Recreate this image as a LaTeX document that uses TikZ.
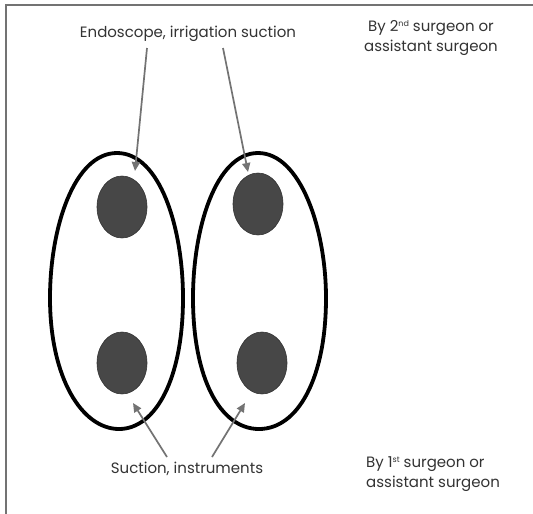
\documentclass[tikz,border=0pt]{standalone}
\usepackage{fontspec}
\setmainfont{Poppins}
\usetikzlibrary{arrows.meta,shapes.geometric}
\newcommand{\supx}[1]{\raisebox{0.55ex}{\fontsize{8}{8}\selectfont #1}}
\begin{document}
\begin{tikzpicture}[x=1pt,y=-1pt,
  frameline/.style={draw=black!55,line width=1.3pt},
  loop/.style={draw=black,line width=3.8pt},
  port/.style={ellipse,fill=black!72,draw=black!80,line width=0.6pt,minimum width=50pt,minimum height=62pt,inner sep=0pt},
  pointer/.style={draw=black!55,line width=1.7pt,-{Triangle[length=9pt,width=8pt]}},
  lbl/.style={font=\fontsize{15}{20}\selectfont,text=black!80,inner sep=0pt}]
\useasboundingbox (0,0) rectangle (533,514);
\fill[white] (0,0) rectangle (533,514);
\coordinate (fa) at (533,5);
\coordinate (fb) at (6,5);
\coordinate (fc) at (6,514);
\draw[frameline] (fa) -- (fb) -- (fc);
% outer loops (egg shapes)
\draw[loop] (117,153) .. controls (160,153) and (183,228) .. (183,298)
  .. controls (183,378) and (156,429) .. (119,429)
  .. controls (82,429) and (50,378) .. (50,298)
  .. controls (50,228) and (74,153) .. cycle;
\draw[loop] (258,153) .. controls (300,153) and (326,228) .. (326,298)
  .. controls (326,378) and (298,429) .. (259,429)
  .. controls (220,429) and (193,378) .. (193,298)
  .. controls (193,228) and (216,153) .. cycle;
% ports
\node[port] (lt) at (122,207) {};
\node[port] (rt) at (258,204) {};
\node[port] (lb) at (122,363) {};
\node[port] (rb) at (262,363) {};
% labels
\node[lbl] (top) at (188,34) {Endoscope, irrigation suction};
\node[lbl] (bot) at (187,469) {Suction, instruments};
\node[lbl,align=center] (s2) at (431,38) {By 2\supx{nd} surgeon or\\assistant surgeon};
\node[lbl,align=left,anchor=west] (s1) at (366,474) {By 1\supx{st} surgeon or\\assistant surgeon};
% arrow ends
\coordinate (t1) at (147,48);
\coordinate (h1) at (135,171);
\coordinate (t2) at (223,48);
\coordinate (h2) at (248,172);
\coordinate (t3) at (167,457);
\coordinate (h3) at (133,403);
\coordinate (t4) at (212,457);
\coordinate (h4) at (245,403);
\draw[pointer] (t1) -- (h1);
\draw[pointer] (t2) -- (h2);
\draw[pointer] (t3) -- (h3);
\draw[pointer] (t4) -- (h4);
\end{tikzpicture}
\end{document}
